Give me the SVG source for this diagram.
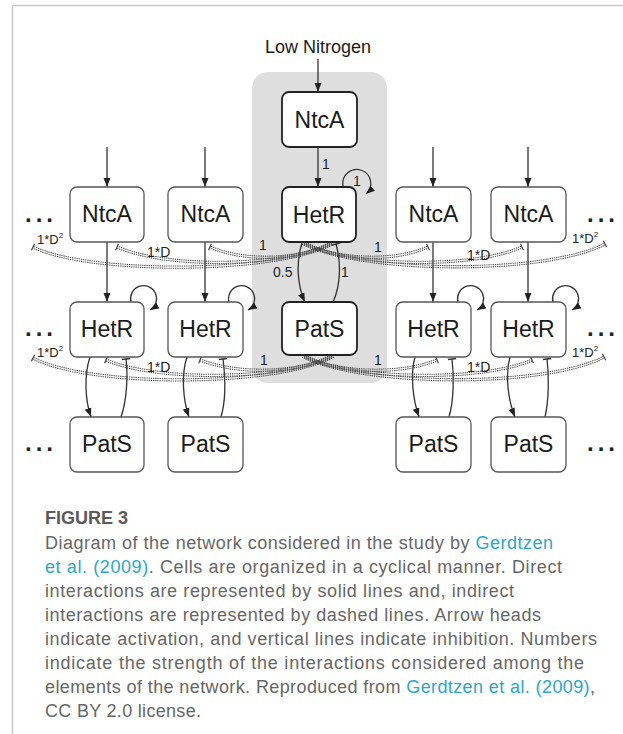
<svg xmlns="http://www.w3.org/2000/svg" xmlns:xlink="http://www.w3.org/1999/xlink" width="623" height="734" viewBox="0 0 623 734">
<style>
.box{fill:#fff;stroke:#555;stroke-width:1.3}
.cbox{fill:#fff;stroke:#222;stroke-width:1.8}
.nl{font-family:"Liberation Sans",Arial,sans-serif;font-size:23px;fill:#1a1a1a;text-anchor:middle}
.el{font-family:"Liberation Sans",Arial,sans-serif;font-size:14px;fill:#222}
.ed{font-family:"Liberation Sans",Arial,sans-serif;font-size:13px;fill:#222}
.sup{font-size:8px}
.dots{font-family:"Liberation Sans",Arial,sans-serif;font-size:24px;font-weight:bold;fill:#222;letter-spacing:4px}
.sl{fill:none;stroke:#333;stroke-width:1.3}
.act{marker-end:url(#ah)}
.inh{marker-end:url(#tee)}
.dot{fill:none;stroke:#4a4a4a;stroke-width:1.1;stroke-dasharray:1.3 0.9}
.tk{fill:none;stroke:none;marker-end:url(#tk)}
.cap{font-family:"Liberation Sans",Arial,sans-serif;font-size:18px;fill:#666}
.lnk{fill:#2aa8c4}
</style>
<defs>
<marker id="ah" viewBox="0 0 10 10" refX="10" refY="5" markerWidth="9" markerHeight="9" orient="auto" markerUnits="userSpaceOnUse"><path d="M0,1.2 L10,5 L0,8.8 z" fill="#222"/></marker>
<marker id="tee" viewBox="-2 -5 4 10" refX="0" refY="0" markerWidth="4" markerHeight="9" orient="auto" markerUnits="userSpaceOnUse"><line x1="0" y1="-5" x2="0" y2="5" stroke="#333" stroke-width="1.6"/></marker>
<marker id="tk" viewBox="-2 -5 4 10" refX="0" refY="0" markerWidth="4" markerHeight="8" orient="auto" markerUnits="userSpaceOnUse"><line x1="0" y1="-4.5" x2="0" y2="4.5" stroke="#444" stroke-width="1.5"/></marker>
<path id="a1" d="M330,243 C305,258 250,264 210,247"/>
<path id="a2" d="M332,243 C290,266 170,270 117,247"/>
<path id="a3" d="M334,243 C280,274 90,275 33,247"/>
<path id="a4" d="M306,243 C330,258 390,264 428,247"/>
<path id="a5" d="M304,243 C345,266 470,270 522,247"/>
<path id="a6" d="M302,243 C360,274 545,275 605,244"/>
<path id="b1" d="M330,356 C305,371 245,377 200,360"/>
<path id="b2" d="M332,356 C290,379 160,383 106,360"/>
<path id="b3" d="M334,356 C280,387 90,388 33,358"/>
<path id="b4" d="M306,356 C330,371 395,377 437,360"/>
<path id="b5" d="M304,356 C345,379 480,383 532,360"/>
<path id="b6" d="M302,356 C360,387 545,388 604,357"/>
</defs>
<rect width="623" height="734" fill="#fff"/>
<g id="frame" stroke="#c8c8c8" stroke-width="1.5" fill="none">
<line x1="12.5" y1="5.5" x2="623" y2="5.5"/>
<line x1="12.5" y1="5.5" x2="12.5" y2="734"/>
</g>
<rect id="cell-highlight" x="252" y="72" width="135" height="311" rx="16" fill="#dedede"/>
<text class="nl" x="318" y="53" style="font-size:18px">Low Nitrogen</text>
<g id="connectors">
<line class="sl act" x1="318" y1="59" x2="318" y2="92"/>
<line class="sl act" x1="318" y1="147" x2="318" y2="187"/>
<path class="sl act" d="M343,186 A14,14 0 1 1 366,194"/>
<path class="sl act" d="M302,243 C296,262 297,285 305,302"/>
<path class="sl inh" d="M333,302 C341,285 341,262 336,244"/>
<line class="sl act" x1="107" y1="147" x2="107" y2="187"/>
<line class="sl act" x1="205" y1="147" x2="205" y2="187"/>
<line class="sl act" x1="433" y1="147" x2="433" y2="187"/>
<line class="sl act" x1="528" y1="147" x2="528" y2="187"/>
<line class="sl act" x1="107" y1="242" x2="107" y2="302"/>
<line class="sl act" x1="205" y1="242" x2="205" y2="302"/>
<line class="sl act" x1="433" y1="242" x2="433" y2="302"/>
<line class="sl act" x1="528" y1="242" x2="528" y2="302"/>
<path class="sl act" d="M131,302 A13,13 0 1 1 150,310"/>
<path class="sl act" d="M229,302 A13,13 0 1 1 248,310"/>
<path class="sl act" d="M458,302 A13,13 0 1 1 477,310"/>
<path class="sl act" d="M553,302 A13,13 0 1 1 572,310"/>
<path class="sl act" d="M90,357 C84,375 85,400 91,417"/>
<path class="sl inh" d="M121,417 C127,400 128,375 126,359"/>
<path class="sl act" d="M187,357 C181,375 183,400 189,417"/>
<path class="sl inh" d="M221,417 C226,400 225,375 223,359"/>
<path class="sl act" d="M415,357 C410,375 413,400 419,417"/>
<path class="sl inh" d="M449,417 C454,400 454,375 452,359"/>
<path class="sl act" d="M510,357 C505,375 508,400 515,417"/>
<path class="sl inh" d="M545,417 C549,400 549,375 547,359"/>
<g id="dashed">
<use href="#a1" class="dot" transform="translate(0,-1.1)"/><use href="#a1" class="dot" transform="translate(0,1.1)"/><use href="#a1" class="tk"/>
<use href="#a2" class="dot" transform="translate(0,-1.1)"/><use href="#a2" class="dot" transform="translate(0,1.1)"/><use href="#a2" class="tk"/>
<use href="#a3" class="dot" transform="translate(0,-1.1)"/><use href="#a3" class="dot" transform="translate(0,1.1)"/><use href="#a3" class="tk"/>
<use href="#a4" class="dot" transform="translate(0,-1.1)"/><use href="#a4" class="dot" transform="translate(0,1.1)"/><use href="#a4" class="tk"/>
<use href="#a5" class="dot" transform="translate(0,-1.1)"/><use href="#a5" class="dot" transform="translate(0,1.1)"/><use href="#a5" class="tk"/>
<use href="#a6" class="dot" transform="translate(0,-1.1)"/><use href="#a6" class="dot" transform="translate(0,1.1)"/><use href="#a6" class="tk"/>
<use href="#b1" class="dot" transform="translate(0,-1.1)"/><use href="#b1" class="dot" transform="translate(0,1.1)"/><use href="#b1" class="tk"/>
<use href="#b2" class="dot" transform="translate(0,-1.1)"/><use href="#b2" class="dot" transform="translate(0,1.1)"/><use href="#b2" class="tk"/>
<use href="#b3" class="dot" transform="translate(0,-1.1)"/><use href="#b3" class="dot" transform="translate(0,1.1)"/><use href="#b3" class="tk"/>
<use href="#b4" class="dot" transform="translate(0,-1.1)"/><use href="#b4" class="dot" transform="translate(0,1.1)"/><use href="#b4" class="tk"/>
<use href="#b5" class="dot" transform="translate(0,-1.1)"/><use href="#b5" class="dot" transform="translate(0,1.1)"/><use href="#b5" class="tk"/>
<use href="#b6" class="dot" transform="translate(0,-1.1)"/><use href="#b6" class="dot" transform="translate(0,1.1)"/><use href="#b6" class="tk"/>
</g>
<g id="edge-labels">
<text class="el" x="322" y="168.5">1</text>
<text class="el" x="353" y="186">1</text>
<text class="el" x="273" y="277">0.5</text>
<text class="el" x="341" y="277">1</text>
<text class="el" x="259" y="250">1</text>
<text class="el" x="147" y="257">1*D</text>
<text class="ed" x="37" y="244">1*D<tspan class="sup" dy="-6">2</tspan></text>
<text class="el" x="374" y="252">1</text>
<text class="el" x="467" y="260">1*D</text>
<text class="ed" x="572" y="243">1*D<tspan class="sup" dy="-6">2</tspan></text>
<text class="el" x="260" y="365">1</text>
<text class="el" x="147" y="372">1*D</text>
<text class="ed" x="37" y="357">1*D<tspan class="sup" dy="-6">2</tspan></text>
<text class="el" x="374" y="365">1</text>
<text class="el" x="467" y="372">1*D</text>
<text class="ed" x="572" y="357">1*D<tspan class="sup" dy="-6">2</tspan></text>
</g>
</g>
<g id="ntca-center"><rect class="cbox" x="282" y="92" width="75" height="55" rx="7"/><text class="nl" x="319.5" y="128">NtcA</text></g>
<g id="hetr-center"><rect class="cbox" x="282" y="187" width="74" height="55" rx="7"/><text class="nl" x="319" y="223">HetR</text></g>
<g id="pats-center"><rect class="cbox" x="282" y="302" width="75" height="53" rx="7"/><text class="nl" x="319.5" y="337">PatS</text></g>
<g id="ntca-1"><rect class="box" x="70" y="187" width="74" height="55" rx="7"/><text class="nl" x="107" y="222">NtcA</text></g>
<g id="ntca-2"><rect class="box" x="168" y="187" width="75" height="55" rx="7"/><text class="nl" x="205.5" y="222">NtcA</text></g>
<g id="ntca-3"><rect class="box" x="396" y="187" width="75" height="55" rx="7"/><text class="nl" x="433.5" y="222">NtcA</text></g>
<g id="ntca-4"><rect class="box" x="491" y="187" width="75" height="55" rx="7"/><text class="nl" x="528.5" y="222">NtcA</text></g>
<g id="hetr-1"><rect class="box" x="70" y="302" width="74" height="55" rx="7"/><text class="nl" x="107" y="337">HetR</text></g>
<g id="hetr-2"><rect class="box" x="168" y="302" width="75" height="55" rx="7"/><text class="nl" x="205.5" y="337">HetR</text></g>
<g id="hetr-3"><rect class="box" x="396" y="302" width="75" height="55" rx="7"/><text class="nl" x="433.5" y="337">HetR</text></g>
<g id="hetr-4"><rect class="box" x="491" y="302" width="75" height="55" rx="7"/><text class="nl" x="528.5" y="337">HetR</text></g>
<g id="pats-1"><rect class="box" x="70" y="417" width="74" height="55" rx="7"/><text class="nl" x="107" y="452">PatS</text></g>
<g id="pats-2"><rect class="box" x="168" y="417" width="75" height="55" rx="7"/><text class="nl" x="205.5" y="452">PatS</text></g>
<g id="pats-3"><rect class="box" x="396" y="417" width="75" height="55" rx="7"/><text class="nl" x="433.5" y="452">PatS</text></g>
<g id="pats-4"><rect class="box" x="491" y="417" width="75" height="55" rx="7"/><text class="nl" x="528.5" y="452">PatS</text></g>
<g id="ellipses">
<text class="dots" x="25" y="222">...</text>
<text class="dots" x="587" y="222">...</text>
<text class="dots" x="25" y="336">...</text>
<text class="dots" x="587" y="336">...</text>
<text class="dots" x="25" y="451">...</text>
<text class="dots" x="587" y="451">...</text>
</g>
<g id="caption">
<text class="cap" x="45" y="524" style="font-weight:bold;fill:#5a5a5a">FIGURE 3</text>
<text class="cap" x="45" y="549" textLength="508">Diagram of the network considered in the study by <tspan class="lnk">Gerdtzen</tspan></text>
<text class="cap" x="45" y="573" textLength="517"><tspan class="lnk">et al. (2009)</tspan>. Cells are organized in a cyclical manner. Direct</text>
<text class="cap" x="45" y="597" textLength="469">interactions are represented by solid lines and, indirect</text>
<text class="cap" x="45" y="621" textLength="496">interactions are represented by dashed lines. Arrow heads</text>
<text class="cap" x="45" y="645" textLength="552">indicate activation, and vertical lines indicate inhibition. Numbers</text>
<text class="cap" x="45" y="669" textLength="539">indicate the strength of the interactions considered among the</text>
<text class="cap" x="45" y="693" textLength="550">elements of the network. Reproduced from <tspan class="lnk">Gerdtzen et al. (2009)</tspan>,</text>
<text class="cap" x="45" y="717" textLength="156">CC BY 2.0 license.</text>
</g>
</svg>
